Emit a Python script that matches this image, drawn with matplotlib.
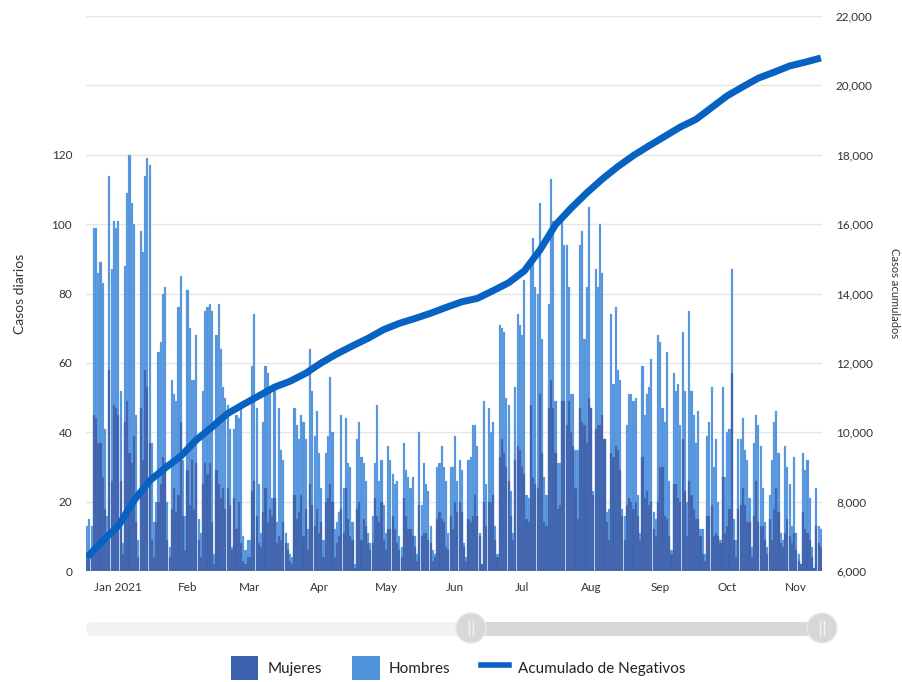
import numpy as np
import pandas as pd
import matplotlib
matplotlib.use("Agg")
import matplotlib.pyplot as plt
from matplotlib.patches import Rectangle, Circle, FancyBboxPatch
from matplotlib.lines import Line2D

plt.rcParams['font.family'] = ['Lato', 'DejaVu Sans']

# daily values, from 2020-12-18
start = "2020-12-18"
hombres = [
    13, 15, 13, 99, 99, 86, 89, 83, 41, 16, 114, 87, 101, 99, 101, 52, 8, 88, 109, 120,
    106, 100, 45, 9, 98, 92, 114, 119, 117, 37, 14, 20, 63, 66, 80, 82, 20, 7, 55, 51,
    49, 76, 85, 32, 16, 81, 70, 55, 55, 68, 15, 11, 52, 75, 76,
    77, 75, 5, 68, 77, 64, 53, 50, 48, 41, 7, 41, 45, 44, 47, 10, 6, 9, 9, 59,
    74, 47, 25, 11, 43, 59, 57, 52, 21, 53, 14, 47, 35, 32, 11, 8, 5, 4, 47, 42,
    38, 45, 43, 38, 12, 64, 52, 39, 46, 34, 24, 9, 34, 39,
    56, 40, 12, 14, 17, 45, 24, 44, 31, 30, 14, 2, 38, 43, 33, 31, 26, 11, 8, 16,
    31, 48, 26, 32, 19, 11, 36, 32, 28, 25, 26, 10, 7, 37, 29, 27, 24, 27, 10, 5,
    40, 19, 31, 25, 23, 13, 6, 5, 30, 31, 36, 30, 26, 11, 30,
    30, 39, 26, 32, 29, 8, 4, 32, 33, 42, 42, 36, 11, 2, 49, 25, 47, 40, 43, 13,
    5, 71, 70, 69, 50, 48, 23, 11, 53, 74, 71, 68, 84, 22, 21, 88, 96, 82, 80, 106,
    67, 27, 22, 77, 113, 101, 49, 31, 31, 101, 94, 94, 82, 51, 51, 35,
    35, 94, 98, 67, 82, 105, 47, 23, 87, 82, 100, 86, 38, 17, 18, 74, 54, 76, 58, 55,
    18, 16, 42, 51, 51, 49, 50, 22, 11, 59, 45, 51, 53, 61, 17, 15, 68, 66, 47, 43,
    63, 26, 6, 57, 52, 54, 42, 69, 52, 20, 75, 52, 45, 37, 46, 12,
    12, 5, 39, 43, 53, 30, 38, 20, 9, 53, 27, 40, 41, 87, 15, 9, 38, 38, 44, 35,
    32, 21, 7, 37, 45, 42, 36, 24, 14, 7, 22, 32, 43, 46, 34, 11, 9, 36, 30, 25,
    13, 33, 11, 5, 2, 34, 29, 32, 21, 7, 1, 24, 13, 12,
]
mujeres = [
    5, 5, 5, 45, 44, 37, 37, 27, 18, 9, 58, 26, 48, 47, 45, 26, 5, 43, 49, 34,
    31, 39, 14, 4, 47, 32, 58, 53, 37, 9, 4, 14, 20, 25, 33, 31, 9, 4, 18, 24,
    17, 22, 43, 16, 6, 29, 19, 32, 18, 31, 9, 4, 25, 31, 28,
    31, 14, 2, 29, 25, 21, 24, 18, 24, 19, 6, 21, 12, 20, 8, 3, 2, 4, 4, 23,
    26, 16, 8, 7, 17, 24, 14, 18, 16, 21, 8, 10, 9, 14, 8, 6, 3, 2, 22, 15,
    17, 22, 10, 18, 6, 25, 19, 13, 18, 11, 14, 4, 20, 21,
    25, 20, 4, 8, 10, 18, 11, 24, 15, 10, 9, 1, 18, 20, 9, 15, 13, 8, 6, 8,
    21, 16, 14, 20, 9, 6, 12, 12, 16, 12, 8, 6, 4, 21, 16, 12, 12, 10, 7, 3,
    19, 10, 11, 11, 9, 8, 3, 4, 15, 17, 15, 14, 7, 6, 16,
    12, 20, 17, 20, 17, 7, 3, 15, 14, 16, 22, 16, 10, 2, 20, 13, 20, 20, 22, 9,
    4, 33, 38, 34, 30, 26, 16, 9, 32, 36, 35, 30, 28, 15, 14, 48, 27, 25, 24, 51,
    34, 14, 13, 47, 55, 47, 34, 18, 19, 49, 49, 42, 49, 40, 36, 24,
    15, 47, 43, 42, 37, 50, 47, 22, 41, 42, 42, 45, 38, 14, 9, 34, 33, 36, 35, 29,
    16, 9, 19, 21, 20, 18, 20, 16, 9, 33, 21, 23, 19, 20, 12, 10, 20, 30, 30, 16,
    15, 10, 5, 25, 25, 21, 20, 38, 23, 10, 26, 22, 18, 15, 15, 10,
    5, 3, 16, 16, 19, 10, 11, 10, 8, 27, 11, 13, 18, 57, 9, 4, 18, 19, 24, 19,
    14, 14, 4, 16, 26, 14, 13, 13, 9, 5, 15, 9, 18, 24, 17, 8, 7, 11, 15, 10,
    8, 11, 6, 3, 2, 17, 12, 11, 9, 4, 1, 13, 8, 7,
]
# cumulative negatives, read every 7 days
acumulado = [
    6400, 6870, 7300, 8030, 8600, 8970, 9310, 9780, 10150, 10540, 10800, 11050,
    11300, 11470, 11700, 12000, 12260, 12490, 12710, 12960, 13140, 13280, 13430, 13600,
    13760, 13860, 14080, 14310, 14650, 15250, 15980, 16460, 16900, 17300, 17660, 17980,
    18260, 18530, 18800, 19020, 19360, 19700, 19960, 20210, 20380, 20560, 20670, 20790,
]
month_ticks = ["2021-01-01", "2021-02-01", "2021-03-01", "2021-04-01", "2021-05-01", "2021-06-01",
               "2021-07-01", "2021-08-01", "2021-09-01", "2021-10-01", "2021-11-01"]
month_labels = ["Jan 2021", "Feb", "Mar", "Apr", "May", "Jun", "Jul", "Aug", "Sep", "Oct", "Nov"]

c_muj = "#3d62ad"
c_hom = "#5294dc"
c_line = "#0762c2"

days = pd.date_range(start, periods=len(hombres))
days_line = pd.date_range(start, periods=len(acumulado), freq="7D")

fig = plt.figure(figsize=(9.03, 6.82), dpi=100)
ax = fig.add_axes([86 / 903, 1 - 571 / 682, (822 - 86) / 903, (571 - 16) / 682])

ax.bar(days, hombres, width=0.95, color=c_hom, ec="#7fb0e6", lw=0.2, zorder=2)
ax.bar(days, mujeres, width=0.95, color=c_muj, ec="#5f7fc0", lw=0.2, zorder=3)
ax.set_xlim(days[0] - pd.Timedelta(hours=12), days[-1] + pd.Timedelta(hours=12))
ax.set_ylim(0, 160)
ax.set_yticks(range(0, 161, 20))
ax.set_yticklabels([str(v) if v <= 120 else "" for v in range(0, 161, 20)])
ax.grid(axis="y", color="#e6e6e6", lw=1, zorder=0)
ax.set_axisbelow(True)
ax.set_xticks(pd.to_datetime(month_ticks))
ax.set_xticklabels(month_labels)
for s in ax.spines.values():
    s.set_visible(False)
ax.tick_params(axis="both", length=0, labelsize=8.5, colors="#333333")
ax.tick_params(axis="x", pad=8)
ax.tick_params(axis="y", pad=10)
ax.set_ylabel("Casos diarios", fontsize=10, color="#333333", labelpad=18)

ax2 = ax.twinx()
ax2.plot(days_line, acumulado, color=c_line, lw=5, solid_capstyle="butt", zorder=5)
ax2.set_ylim(6000, 22000)
ax2.set_yticks(range(6000, 22001, 2000))
ax2.set_yticklabels([f"{v:,}" for v in range(6000, 22001, 2000)])
for s in ax2.spines.values():
    s.set_visible(False)
ax2.tick_params(axis="y", length=0, labelsize=8.5, colors="#333333", pad=10)
fig.text(895 / 903, 1 - 293 / 682, "Casos acumulados", rotation=-90, ha="center",
         va="center", fontsize=8, color="#333333")

# navigator / scrollbar
nav = fig.add_axes([0, 0, 1, 1], zorder=-1)
nav.set_xlim(0, 903)
nav.set_ylim(682, 0)
nav.axis("off")
nav.add_patch(FancyBboxPatch((86, 622), 385, 14, boxstyle="round,pad=0,rounding_size=7",
                             fc="#f2f2f2", ec="none"))
nav.add_patch(Rectangle((471, 622), 351, 14, fc="#d8d8d8", ec="none"))
for cx in (471, 822):
    nav.add_patch(Circle((cx, 628), 15, fc="#d8d8d8", ec="#e8e8e8", lw=1))
    nav.plot([cx - 2, cx - 2], [621, 635], color="#f4f4f4", lw=1)
    nav.plot([cx + 2, cx + 2], [621, 635], color="#f4f4f4", lw=1)

handles = [
    Rectangle((0, 0), 1, 1, fc=c_muj, ec="none"),
    Rectangle((0, 0), 1, 1, fc=c_hom, ec="none"),
    Line2D([0], [0], color=c_line, lw=4),
]
fig.legend(handles, ["Mujeres", "Hombres", "Acumulado de Negativos"], loc="center",
           bbox_to_anchor=(458 / 903, 1 - 668 / 682), ncol=3, frameon=False,
           fontsize=11, handlelength=1.8, handleheight=2.0, handletextpad=0.6,
           columnspacing=2.0, labelcolor="#222222")

fig.savefig("out.png", dpi=100)
